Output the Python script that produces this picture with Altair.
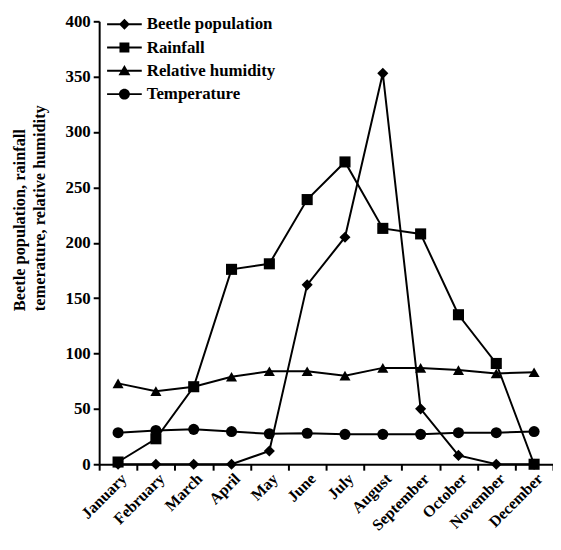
import altair as alt
import pandas as pd

months = ["January", "February", "March", "April", "May", "June", "July",
          "August", "September", "October", "November", "December"]
beetle = [0, 0, 0, 0, 12, 162, 205, 353, 50, 8, 0, 0]
rainfall = [2, 23, 70, 176, 181, 239, 273, 213, 208, 135, 91, 0]
humidity = [73, 66, 70, 79, 84, 84, 80, 87, 87, 85, 82, 83]
temperature = [28.5, 30.5, 31.5, 29.5, 27.5, 28, 27, 27, 27, 28.5, 28.5, 29.5]

series_names = ["Beetle population", "Rainfall", "Relative humidity", "Temperature"]
series_values = [beetle, rainfall, humidity, temperature]
marker_shapes = ["diamond", "square", "triangle-up", "circle"]

# legend symbols: a short line with the marker in its middle
LINE = "M-1.75,-0.1 L1.75,-0.1 L1.75,0.1 L-1.75,0.1 Z "
legend_paths = [
    LINE + "M0,-0.55 L0.55,0 L0,0.55 L-0.55,0 Z",
    LINE + "M-0.5,-0.5 L0.5,-0.5 L0.5,0.5 L-0.5,0.5 Z",
    LINE + "M0,-0.6 L0.6,0.45 L-0.6,0.45 Z",
    LINE + "M0.55,0 A0.55,0.55 0 1,1 -0.55,0 A0.55,0.55 0 1,1 0.55,0 Z",
]

rows = []
for name, vals in zip(series_names, series_values):
    for m, v in zip(months, vals):
        rows.append({"month": m, "value": v, "series": name})
df = pd.DataFrame(rows)

FONT = "Liberation Serif"

x_enc = alt.X(
    "month:N", sort=months,
    scale=alt.Scale(paddingInner=0, paddingOuter=0),
    axis=alt.Axis(title=None, labelAngle=-45, tickBand="extent",
                  labelFontSize=16, labelPadding=0),
)
y_enc = alt.Y(
    "value:Q",
    scale=alt.Scale(domain=[0, 400], nice=False),
    axis=alt.Axis(
        values=list(range(0, 401, 50)),
        title=["Beetle population, rainfall", "temerature, relative humidity"],
        titleFont=FONT, titleFontSize=16.5, titleFontWeight="bold",
        titleColor="black", titleAngle=-90, titleAlign="left",
        titleBaseline="alphabetic", titleX=-75, titleY=292, titleLineHeight=20,
        labelFontSize=17, labelPadding=3,
    ),
)

base = alt.Chart(df).encode(x=x_enc, y=y_enc)

lines = base.mark_line(color="black", strokeWidth=2).encode(detail="series:N")

points = base.mark_point(filled=True, size=125, color="black", opacity=1).encode(
    shape=alt.Shape("series:N",
                    scale=alt.Scale(domain=series_names, range=marker_shapes),
                    legend=None)
)

legend_layer = base.mark_point(filled=True, color="black", opacity=1).encode(
    shape=alt.Shape(
        "series:N",
        scale=alt.Scale(domain=series_names, range=legend_paths),
        legend=alt.Legend(
            title=None, orient="none", legendX=15.5, legendY=-7,
            symbolSize=400, symbolFillColor="black", symbolStrokeWidth=0,
            symbolOpacity=1, labelFont=FONT, labelFontSize=17,
            labelFontWeight="bold",
            labelColor="black", labelOffset=12.5, rowPadding=5.5, padding=0,
        ),
    )
).transform_filter("false")

chart = (
    alt.layer(lines, points, legend_layer)
    .resolve_scale(shape="independent")
    .properties(width=458, height=447,
                autosize=alt.AutoSizeParams(type="none"),
                padding={"left": 92, "top": 11, "right": 0, "bottom": 70})
    .configure_view(stroke=None)
    .configure_axis(
        grid=False, domainColor="black", domainWidth=2, tickColor="black",
        tickWidth=2, tickSize=6, labelColor="black", labelFont=FONT,
        labelFontWeight="bold",
    )
)

chart.save("out.html", embed_options={"renderer": "svg", "actions": False})
